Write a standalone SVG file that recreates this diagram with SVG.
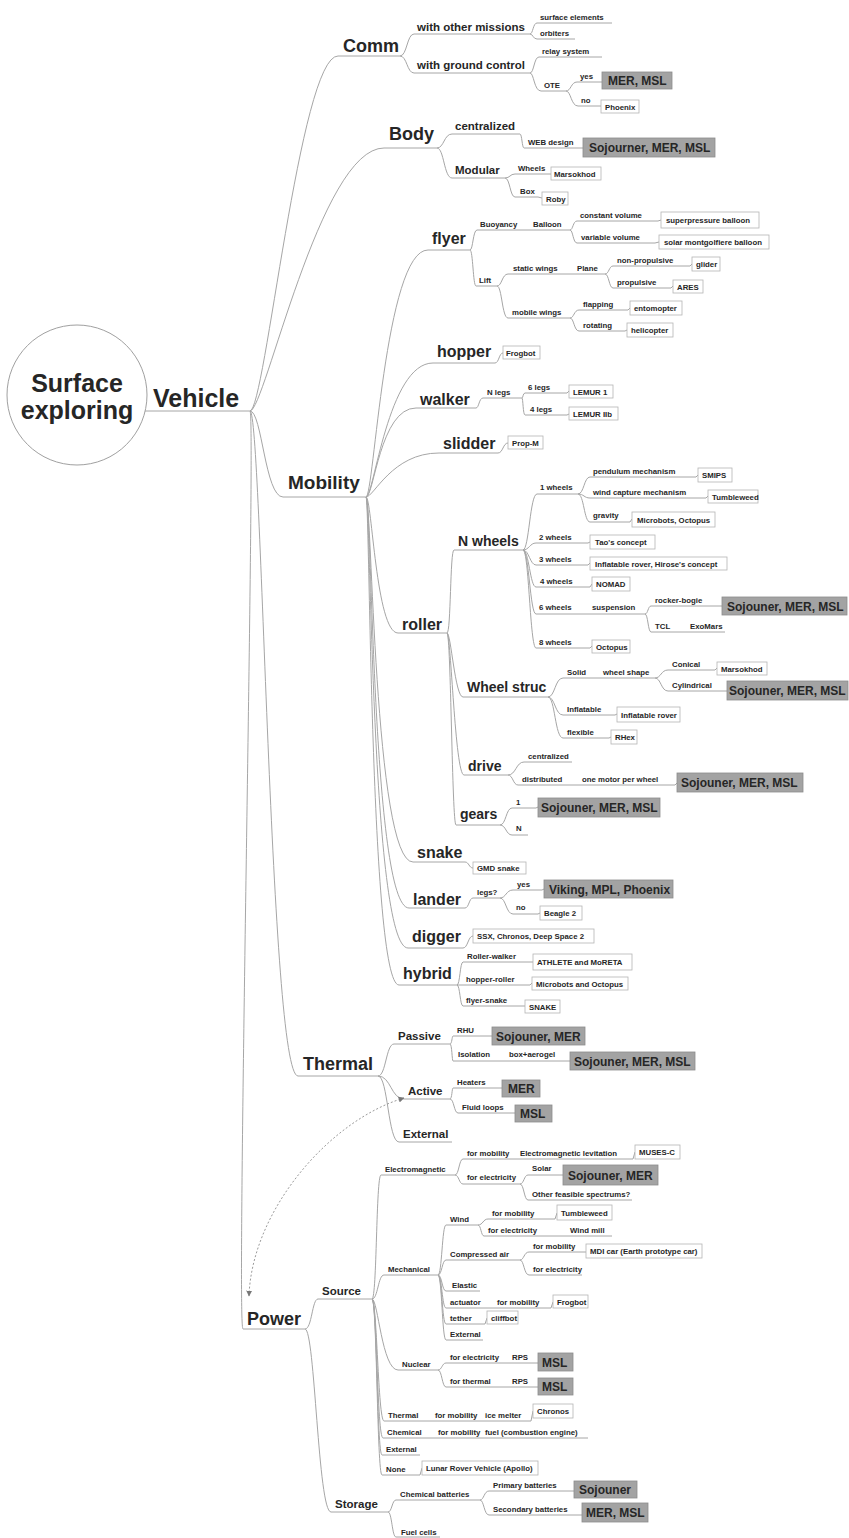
<svg xmlns="http://www.w3.org/2000/svg" width="849" height="1538" viewBox="0 0 849 1538">
<style>
text{font-family:'Liberation Sans',Arial,sans-serif;font-weight:bold;fill:#262626}
.r{font-size:25px}.l1{font-size:18px}.l2{font-size:16px}.l3{font-size:14px}.l4{font-size:11.5px}.s{font-size:7.8px}.g{font-size:12px}
.c{fill:none;stroke:#a6a6a6;stroke-width:1}
.bx{fill:#fff;stroke:#b4b4b4;stroke-width:.8}
.gb{fill:#a3a3a3;stroke:#8c8c8c;stroke-width:.8}
.rel{fill:none;stroke:#9a9a9a;stroke-width:1;stroke-dasharray:2 2}
</style>
<defs>
<marker id="ah" viewBox="0 0 10 10" refX="9" refY="5" markerWidth="6" markerHeight="6" orient="auto-start-reverse"><path d="M0 0L10 5L0 10z" fill="#777"/></marker>
</defs>
<rect width="849" height="1538" fill="#fff"/>
<g id="connectors">
<path class="c" d="M145 411H250"/>
<path class="c" d="M250 411C265 411 300 56 338 56H400"/>
<path class="c" d="M250 411C265 411 320 148 384 148H437"/>
<path class="c" d="M250 411C262 411 265 497 283 497H366"/>
<path class="c" d="M250 411C262 411 270 1076 298 1076H378"/>
<path class="c" d="M250 411C256 411 236 1329 243 1329H305"/>
<path class="c" d="M400 56C407 56 407 34 414 34H530"/>
<path class="c" d="M400 56C407 56 407 73 414 73H530"/>
<path class="c" d="M530 34C533 34 533 23 537 23H612"/>
<path class="c" d="M530 34C533 34 533 39 537 39H575"/>
<path class="c" d="M530 73C534 73 534 57 539 57H602"/>
<path class="c" d="M530 73C534 73 534 91 541 91H566"/>
<path class="c" d="M566 91C571 91 571 82 577 82H602"/>
<path class="c" d="M566 91C571 91 571 106 578 106H601"/>
<path class="c" d="M437 148C444 148 444 134 452 134H520"/>
<path class="c" d="M520 134C522 134 522 148 524 148H583"/>
<path class="c" d="M437 148C444 148 444 178 452 178H505"/>
<path class="c" d="M505 178C510 178 510 174 515 174H551"/>
<path class="c" d="M505 178C510 178 510 197 515 197H538L542 198"/>
<path class="c" d="M366 497C374 497 385 250 428 250H470"/>
<path class="c" d="M366 497C374 497 388 363 433 363H495"/>
<path class="c" d="M366 497C374 497 380 408 416 408H476"/>
<path class="c" d="M366 497C374 497 392 453 439 453H498"/>
<path class="c" d="M366 497C372 497 376 633 398 633H447"/>
<path class="c" d="M366 497C372 497 374 862 413 862H465"/>
<path class="c" d="M366 497C372 497 372 908 409 908H465"/>
<path class="c" d="M366 497C371 497 371 948 408 948H463"/>
<path class="c" d="M366 497C370 497 370 985 399 985H457"/>
<path class="c" d="M470 250C473 250 473 230 477 230H570"/>
<path class="c" d="M470 250C473 250 473 286 476 286H497"/>
<path class="c" d="M570 230C573 230 573 221 577 221H658L661 220"/>
<path class="c" d="M570 230C573 230 573 243 577 243H655L659 242"/>
<path class="c" d="M497 286C502 286 502 274 508 274H605"/>
<path class="c" d="M497 286C502 286 502 318 508 318H570"/>
<path class="c" d="M605 274C609 274 609 266 613 266H690L692 264"/>
<path class="c" d="M605 274C609 274 609 288 613 288H671L673 286"/>
<path class="c" d="M570 318C574 318 574 310 579 310H628L630 308"/>
<path class="c" d="M570 318C574 318 574 331 579 331H625L627 330"/>
<path class="c" d="M495 363C499 363 499 353 503 353"/>
<path class="c" d="M476 408C479 408 479 398 483 398H522"/>
<path class="c" d="M522 398C523 398 523 393 525 393H567L569 391"/>
<path class="c" d="M522 398C523 398 523 415 525 415H567L569 414"/>
<path class="c" d="M498 453C503 453 503 443 508 443"/>
<path class="c" d="M447 633C451 633 450 550 454 550H523"/>
<path class="c" d="M447 633C451 633 455 697 463 697H548"/>
<path class="c" d="M447 633C451 633 455 775 464 775H508"/>
<path class="c" d="M447 633C451 633 452 825 456 825H500"/>
<path class="c" d="M523 550C529 550 530 494 537 494H578"/>
<path class="c" d="M523 550C529 550 530 543 536 543H588L590 542"/>
<path class="c" d="M523 550C529 550 530 565 536 565H588L590 563"/>
<path class="c" d="M523 550C529 550 530 587 536 587H590L592 584"/>
<path class="c" d="M523 550C529 550 530 614 536 614H645"/>
<path class="c" d="M523 550C529 550 530 648 536 648H590L592 646"/>
<path class="c" d="M578 494C584 494 584 477 590 477H696L698 475"/>
<path class="c" d="M578 494C584 494 584 498 590 498H706L708 496"/>
<path class="c" d="M578 494C584 494 584 522 590 522H630L632 519"/>
<path class="c" d="M645 614C648 614 648 606 651 606H722"/>
<path class="c" d="M645 614C648 614 648 632 651 632H725"/>
<path class="c" d="M548 697C555 697 555 678 563 678H655"/>
<path class="c" d="M548 697C555 697 555 715 563 715H615L617 714"/>
<path class="c" d="M548 697C555 697 555 738 563 738H609L611 737"/>
<path class="c" d="M655 678C661 678 661 670 668 670H715L717 668"/>
<path class="c" d="M655 678C661 678 661 691 668 691H727"/>
<path class="c" d="M508 775C516 775 516 762 524 762H572"/>
<path class="c" d="M508 775C513 775 513 785 518 785H675L677 783"/>
<path class="c" d="M500 825C506 825 506 808 512 808H536L538 807"/>
<path class="c" d="M500 825C506 825 506 835 512 835H528"/>
<path class="c" d="M465 862C469 862 469 868 473 868"/>
<path class="c" d="M465 908C469 908 469 898 473 898H500"/>
<path class="c" d="M500 898C506 898 506 890 513 890H542L544 889"/>
<path class="c" d="M500 898C506 898 506 914 513 914H538L540 913"/>
<path class="c" d="M463 948C468 948 468 936 473 936"/>
<path class="c" d="M457 985C460 985 460 962 463 962H533"/>
<path class="c" d="M457 985H530L532 983"/>
<path class="c" d="M457 985C460 985 460 1006 463 1006H525"/>
<path class="c" d="M378 1076C386 1076 386 1044 394 1044H450"/>
<path class="c" d="M378 1076C391 1076 391 1099 404 1099H450"/>
<path class="c" d="M378 1076C388 1076 388 1142 399 1142H452"/>
<path class="c" d="M450 1044C452 1044 452 1036 453 1036H492"/>
<path class="c" d="M450 1044C452 1044 452 1061 453 1061H570"/>
<path class="c" d="M450 1099C452 1099 452 1088 453 1088H502"/>
<path class="c" d="M450 1099C454 1099 454 1113 458 1113H515"/>
<path class="c" d="M305 1329C312 1329 312 1299 318 1299H372"/>
<path class="c" d="M305 1329C315 1329 318 1512 331 1512H388"/>
<path class="c" d="M372 1299C377 1299 376 1175 381 1175H455"/>
<path class="c" d="M372 1299C378 1299 378 1275 384 1275H438"/>
<path class="c" d="M372 1299C378 1299 382 1370 398 1370H438"/>
<path class="c" d="M372 1299C377 1299 378 1421 384 1421H531L533 1411"/>
<path class="c" d="M372 1299C377 1299 377 1438 383 1438H588"/>
<path class="c" d="M372 1299C377 1299 377 1455 382 1455H420"/>
<path class="c" d="M372 1299C377 1299 377 1475 382 1475H420L422 1468"/>
<path class="c" d="M455 1175C459 1175 459 1159 463 1159H633L635 1152"/>
<path class="c" d="M455 1175C459 1175 459 1184 463 1184H520"/>
<path class="c" d="M520 1184C524 1184 524 1175 528 1175H563"/>
<path class="c" d="M520 1184C524 1184 524 1200 528 1200H632"/>
<path class="c" d="M438 1275C442 1275 442 1225 446 1225H478"/>
<path class="c" d="M438 1275C442 1275 442 1260 446 1260H520"/>
<path class="c" d="M438 1275C442 1275 442 1291 446 1291H480"/>
<path class="c" d="M438 1275C442 1275 442 1308 446 1308H551L553 1302"/>
<path class="c" d="M438 1275C442 1275 442 1324 446 1324H485L487 1318"/>
<path class="c" d="M438 1275C442 1275 442 1340 446 1340H483"/>
<path class="c" d="M478 1225C483 1225 483 1219 488 1219H555L557 1213"/>
<path class="c" d="M478 1225C481 1225 481 1236 484 1236H612"/>
<path class="c" d="M520 1260C524 1260 524 1252 529 1252H586"/>
<path class="c" d="M520 1260C524 1260 524 1275 529 1275H582"/>
<path class="c" d="M438 1370C442 1370 442 1363 446 1363H538"/>
<path class="c" d="M438 1370C442 1370 442 1387 446 1387H538"/>
<path class="c" d="M388 1512C392 1512 392 1500 396 1500H480"/>
<path class="c" d="M388 1512C392 1512 392 1537 396 1537H440"/>
<path class="c" d="M480 1500C484 1500 484 1491 489 1491H574"/>
<path class="c" d="M480 1500C484 1500 484 1515 489 1515H582"/>
<path class="rel" d="M404 1098C330 1120 252 1210 249 1296" marker-start="url(#ah)" marker-end="url(#ah)"/>
</g>
<g id="n-root"><circle cx="77" cy="395" r="70" fill="#fff" stroke="#a0a0a0" stroke-width="1"/><text class="r" x="77" y="392" text-anchor="middle">Surface</text><text class="r" x="77" y="419" text-anchor="middle">exploring</text></g>
<g id="n-vehicle"><text class="r" x="153" y="407">Vehicle</text></g>
<g id="n-comm"><text class="l1" x="343" y="52">Comm</text></g>
<g id="n-body"><text class="l1" x="389" y="140">Body</text></g>
<g id="n-mobility"><text class="l1" x="288" y="489" style="font-size:19px">Mobility</text></g>
<g id="n-thermal"><text class="l1" x="303" y="1070">Thermal</text></g>
<g id="n-power"><text class="l1" x="247" y="1325">Power</text></g>
<g id="n-wom"><text class="l4" x="417" y="31">with other missions</text></g>
<g id="n-wgc"><text class="l4" x="417" y="69">with ground control</text></g>
<g id="n-surf"><text class="s" x="540" y="20">surface elements</text></g>
<g id="n-orb"><text class="s" x="540" y="36">orbiters</text></g>
<g id="n-relay"><text class="s" x="542" y="54">relay system</text></g>
<g id="n-ote"><text class="s" x="544" y="88">OTE</text></g>
<g id="n-ote-yes"><text class="s" x="580" y="79">yes</text></g>
<g id="n-ote-no"><text class="s" x="581" y="103">no</text></g>
<g id="n-mermsl1"><rect class="gb" x="602" y="72" width="70" height="17"/><text class="g" x="608" y="85">MER, MSL</text></g>
<g id="n-phoenix"><rect class="bx" x="601" y="100" width="38" height="13"/><text class="s" x="605" y="110">Phoenix</text></g>
<g id="n-central"><text class="l4" x="455" y="130">centralized</text></g>
<g id="n-web"><text class="s" x="528" y="145">WEB design</text></g>
<g id="n-smm1"><rect class="gb" x="583" y="138" width="132" height="19"/><text class="g" x="589" y="152">Sojourner, MER, MSL</text></g>
<g id="n-modular"><text class="l4" x="455" y="174">Modular</text></g>
<g id="n-wheels"><text class="s" x="518" y="171">Wheels</text></g>
<g id="n-marso1"><rect class="bx" x="551" y="167" width="50" height="13"/><text class="s" x="554" y="177">Marsokhod</text></g>
<g id="n-box"><text class="s" x="520" y="194">Box</text></g>
<g id="n-roby"><rect class="bx" x="542" y="192" width="26" height="13"/><text class="s" x="546" y="202">Roby</text></g>
<g id="n-flyer"><text class="l2" x="432" y="244">flyer</text></g>
<g id="n-buoy"><text class="s" x="480" y="227">Buoyancy</text></g>
<g id="n-balloon"><text class="s" x="533" y="227">Balloon</text></g>
<g id="n-constv"><text class="s" x="580" y="218">constant volume</text></g>
<g id="n-superp"><rect class="bx" x="661" y="212" width="98" height="16"/><text class="s" x="666" y="223">superpressure balloon</text></g>
<g id="n-varv"><text class="s" x="581" y="240">variable volume</text></g>
<g id="n-solarm"><rect class="bx" x="659" y="235" width="110" height="14"/><text class="s" x="664" y="245">solar montgolfiere balloon</text></g>
<g id="n-lift"><text class="s" x="479" y="283">Lift</text></g>
<g id="n-static"><text class="s" x="513" y="271">static wings</text></g>
<g id="n-plane"><text class="s" x="577" y="271">Plane</text></g>
<g id="n-nonprop"><text class="s" x="617" y="263">non-propulsive</text></g>
<g id="n-glider"><rect class="bx" x="692" y="257" width="28" height="14"/><text class="s" x="696" y="267">glider</text></g>
<g id="n-prop"><text class="s" x="617" y="285">propulsive</text></g>
<g id="n-ares"><rect class="bx" x="673" y="280" width="30" height="13"/><text class="s" x="677" y="290">ARES</text></g>
<g id="n-mobw"><text class="s" x="512" y="315">mobile wings</text></g>
<g id="n-flap"><text class="s" x="583" y="307">flapping</text></g>
<g id="n-ento"><rect class="bx" x="630" y="301" width="52" height="14"/><text class="s" x="634" y="311">entomopter</text></g>
<g id="n-rot"><text class="s" x="583" y="328">rotating</text></g>
<g id="n-heli"><rect class="bx" x="627" y="323" width="46" height="14"/><text class="s" x="631" y="333">helicopter</text></g>
<g id="n-hopper"><text class="l2" x="437" y="357">hopper</text></g>
<g id="n-frogbot1"><rect class="bx" x="503" y="346" width="37" height="13"/><text class="s" x="506" y="356">Frogbot</text></g>
<g id="n-walker"><text class="l2" x="420" y="405">walker</text></g>
<g id="n-nlegs"><text class="s" x="487" y="395">N legs</text></g>
<g id="n-6legs"><text class="s" x="528" y="390">6 legs</text></g>
<g id="n-lemur1"><rect class="bx" x="569" y="385" width="44" height="13"/><text class="s" x="573" y="395">LEMUR 1</text></g>
<g id="n-4legs"><text class="s" x="530" y="412">4 legs</text></g>
<g id="n-lemur2"><rect class="bx" x="569" y="407" width="49" height="13"/><text class="s" x="573" y="417">LEMUR IIb</text></g>
<g id="n-slidder"><text class="l2" x="443" y="449">slidder</text></g>
<g id="n-propm"><rect class="bx" x="508" y="436" width="35" height="13"/><text class="s" x="512" y="446">Prop-M</text></g>
<g id="n-roller"><text class="l2" x="402" y="630">roller</text></g>
<g id="n-nwheels"><text class="l3" x="458" y="546">N wheels</text></g>
<g id="n-1w"><text class="s" x="540" y="490">1 wheels</text></g>
<g id="n-pend"><text class="s" x="593" y="474">pendulum mechanism</text></g>
<g id="n-smips"><rect class="bx" x="698" y="468" width="34" height="14"/><text class="s" x="702" y="478">SMIPS</text></g>
<g id="n-windc"><text class="s" x="593" y="495">wind capture mechanism</text></g>
<g id="n-tumble1"><rect class="bx" x="708" y="490" width="50" height="13"/><text class="s" x="712" y="500">Tumbleweed</text></g>
<g id="n-gravity"><text class="s" x="593" y="518">gravity</text></g>
<g id="n-microoct1"><rect class="bx" x="632" y="512" width="83" height="15"/><text class="s" x="637" y="523">Microbots, Octopus</text></g>
<g id="n-2w"><text class="s" x="539" y="540">2 wheels</text></g>
<g id="n-tao"><rect class="bx" x="590" y="535" width="65" height="14"/><text class="s" x="595" y="545">Tao's concept</text></g>
<g id="n-3w"><text class="s" x="539" y="562">3 wheels</text></g>
<g id="n-hirose"><rect class="bx" x="590" y="557" width="137" height="13"/><text class="s" x="595" y="567">Inflatable rover, Hirose's concept</text></g>
<g id="n-4w"><text class="s" x="540" y="584">4 wheels</text></g>
<g id="n-nomad"><rect class="bx" x="592" y="577" width="38" height="14"/><text class="s" x="596" y="587">NOMAD</text></g>
<g id="n-6w"><text class="s" x="539" y="610">6 wheels</text></g>
<g id="n-susp"><text class="s" x="592" y="610">suspension</text></g>
<g id="n-rocker"><text class="s" x="655" y="603">rocker-bogie</text></g>
<g id="n-smm2"><rect class="gb" x="722" y="597" width="125" height="18"/><text class="g" x="727" y="611">Sojouner, MER, MSL</text></g>
<g id="n-tcl"><text class="s" x="655" y="629">TCL</text></g>
<g id="n-exomars"><text class="s" x="690" y="629">ExoMars</text></g>
<g id="n-8w"><text class="s" x="539" y="645">8 wheels</text></g>
<g id="n-octopus"><rect class="bx" x="592" y="640" width="38" height="13"/><text class="s" x="596" y="650">Octopus</text></g>
<g id="n-wstruc"><text class="l3" x="467" y="692">Wheel struc</text></g>
<g id="n-solid"><text class="s" x="567" y="675">Solid</text></g>
<g id="n-wshape"><text class="s" x="603" y="675">wheel shape</text></g>
<g id="n-conical"><text class="s" x="672" y="667">Conical</text></g>
<g id="n-marso2"><rect class="bx" x="717" y="662" width="50" height="13"/><text class="s" x="721" y="672">Marsokhod</text></g>
<g id="n-cyl"><text class="s" x="672" y="688">Cylindrical</text></g>
<g id="n-smm3"><rect class="gb" x="727" y="681" width="121" height="19"/><text class="g" x="729" y="695">Sojouner, MER, MSL</text></g>
<g id="n-infl"><text class="s" x="567" y="712">Inflatable</text></g>
<g id="n-inflrover"><rect class="bx" x="617" y="707" width="63" height="15"/><text class="s" x="621" y="718">Inflatable rover</text></g>
<g id="n-flex"><text class="s" x="567" y="735">flexible</text></g>
<g id="n-rhex"><rect class="bx" x="611" y="730" width="26" height="14"/><text class="s" x="615" y="740">RHex</text></g>
<g id="n-drive"><text class="l3" x="468" y="771">drive</text></g>
<g id="n-dcentral"><text class="s" x="528" y="759">centralized</text></g>
<g id="n-distr"><text class="s" x="522" y="782">distributed</text></g>
<g id="n-onemotor"><text class="s" x="582" y="782">one motor per wheel</text></g>
<g id="n-smm4"><rect class="gb" x="677" y="773" width="126" height="19"/><text class="g" x="681" y="787">Sojouner, MER, MSL</text></g>
<g id="n-gears"><text class="l3" x="460" y="819">gears</text></g>
<g id="n-g1"><text class="s" x="516" y="805">1</text></g>
<g id="n-smm5"><rect class="gb" x="538" y="798" width="122" height="19"/><text class="g" x="541" y="812">Sojouner, MER, MSL</text></g>
<g id="n-gn"><text class="s" x="516" y="831">N</text></g>
<g id="n-snake"><text class="l2" x="417" y="858">snake</text></g>
<g id="n-gmd"><rect class="bx" x="473" y="862" width="53" height="12"/><text class="s" x="477" y="871">GMD snake</text></g>
<g id="n-lander"><text class="l2" x="413" y="905">lander</text></g>
<g id="n-legs"><text class="s" x="477" y="895">legs?</text></g>
<g id="n-lyes"><text class="s" x="517" y="887">yes</text></g>
<g id="n-viking"><rect class="gb" x="544" y="880" width="129" height="18"/><text class="g" x="549" y="894">Viking, MPL, Phoenix</text></g>
<g id="n-lno"><text class="s" x="516" y="910">no</text></g>
<g id="n-beagle"><rect class="bx" x="540" y="906" width="42" height="14"/><text class="s" x="544" y="916">Beagle 2</text></g>
<g id="n-digger"><text class="l2" x="412" y="942">digger</text></g>
<g id="n-ssx"><rect class="bx" x="473" y="929" width="121" height="14"/><text class="s" x="477" y="939">SSX, Chronos, Deep Space 2</text></g>
<g id="n-hybrid"><text class="l2" x="403" y="979">hybrid</text></g>
<g id="n-rwalk"><text class="s" x="467" y="959">Roller-walker</text></g>
<g id="n-athlete"><rect class="bx" x="533" y="954" width="99" height="16"/><text class="s" x="537" y="965">ATHLETE and MoRETA</text></g>
<g id="n-hroll"><text class="s" x="466" y="982">hopper-roller</text></g>
<g id="n-microoct2"><rect class="bx" x="532" y="977" width="96" height="13"/><text class="s" x="536" y="987">Microbots and Octopus</text></g>
<g id="n-fsnake"><text class="s" x="466" y="1003">flyer-snake</text></g>
<g id="n-snakebox"><rect class="bx" x="525" y="1000" width="35" height="13"/><text class="s" x="529" y="1010">SNAKE</text></g>
<g id="n-passive"><text class="l4" x="398" y="1040">Passive</text></g>
<g id="n-rhu"><text class="s" x="457" y="1033">RHU</text></g>
<g id="n-sm1"><rect class="gb" x="492" y="1027" width="93" height="18"/><text class="g" x="496" y="1041">Sojouner, MER</text></g>
<g id="n-isol"><text class="s" x="458" y="1057">Isolation</text></g>
<g id="n-aerogel"><text class="s" x="509" y="1057">box+aerogel</text></g>
<g id="n-smm6"><rect class="gb" x="570" y="1052" width="125" height="18"/><text class="g" x="574" y="1066">Sojouner, MER, MSL</text></g>
<g id="n-active"><text class="l4" x="408" y="1095">Active</text></g>
<g id="n-heaters"><text class="s" x="457" y="1085">Heaters</text></g>
<g id="n-mer1"><rect class="gb" x="502" y="1080" width="38" height="17"/><text class="g" x="508" y="1093">MER</text></g>
<g id="n-fluid"><text class="s" x="462" y="1110">Fluid loops</text></g>
<g id="n-msl1"><rect class="gb" x="515" y="1105" width="37" height="17"/><text class="g" x="520" y="1118">MSL</text></g>
<g id="n-text"><text class="l4" x="403" y="1138">External</text></g>
<g id="n-source"><text class="l4" x="322" y="1295">Source</text></g>
<g id="n-emag"><text class="s" x="385" y="1172">Electromagnetic</text></g>
<g id="n-em-mob"><text class="s" x="467" y="1156">for mobility</text></g>
<g id="n-emlev"><text class="s" x="520" y="1156">Electromagnetic levitation</text></g>
<g id="n-muses"><rect class="bx" x="635" y="1145" width="45" height="14"/><text class="s" x="639" y="1155">MUSES-C</text></g>
<g id="n-em-elec"><text class="s" x="467" y="1180">for electricity</text></g>
<g id="n-solar"><text class="s" x="532" y="1171">Solar</text></g>
<g id="n-sm2"><rect class="gb" x="563" y="1165" width="95" height="20"/><text class="g" x="568" y="1180">Sojouner, MER</text></g>
<g id="n-other"><text class="s" x="532" y="1197">Other feasible spectrums?</text></g>
<g id="n-mech"><text class="s" x="388" y="1272">Mechanical</text></g>
<g id="n-wind"><text class="s" x="450" y="1222">Wind</text></g>
<g id="n-wind-mob"><text class="s" x="492" y="1216">for mobility</text></g>
<g id="n-tumble2"><rect class="bx" x="557" y="1205" width="55" height="15"/><text class="s" x="561" y="1216">Tumbleweed</text></g>
<g id="n-wind-elec"><text class="s" x="488" y="1233">for electricity</text></g>
<g id="n-windmill"><text class="s" x="570" y="1233">Wind mill</text></g>
<g id="n-comp"><text class="s" x="450" y="1257">Compressed air</text></g>
<g id="n-comp-mob"><text class="s" x="533" y="1249">for mobility</text></g>
<g id="n-mdi"><rect class="bx" x="586" y="1244" width="116" height="14"/><text class="s" x="590" y="1254">MDI car (Earth prototype car)</text></g>
<g id="n-comp-elec"><text class="s" x="533" y="1272">for electricity</text></g>
<g id="n-elastic"><text class="s" x="452" y="1288">Elastic</text></g>
<g id="n-actuator"><text class="s" x="450" y="1305">actuator</text></g>
<g id="n-act-mob"><text class="s" x="497" y="1305">for mobility</text></g>
<g id="n-frogbot2"><rect class="bx" x="553" y="1295" width="35" height="13"/><text class="s" x="557" y="1305">Frogbot</text></g>
<g id="n-tether"><text class="s" x="450" y="1321">tether</text></g>
<g id="n-cliffbot"><rect class="bx" x="487" y="1311" width="31" height="13"/><text class="s" x="491" y="1321">cliffbot</text></g>
<g id="n-mext"><text class="s" x="450" y="1337">External</text></g>
<g id="n-nuclear"><text class="s" x="402" y="1367">Nuclear</text></g>
<g id="n-nuc-elec"><text class="s" x="450" y="1360">for electricity</text></g>
<g id="n-rps1"><text class="s" x="512" y="1360">RPS</text></g>
<g id="n-msl2"><rect class="gb" x="538" y="1353" width="35" height="18"/><text class="g" x="542" y="1367">MSL</text></g>
<g id="n-nuc-th"><text class="s" x="450" y="1384">for thermal</text></g>
<g id="n-rps2"><text class="s" x="512" y="1384">RPS</text></g>
<g id="n-msl3"><rect class="gb" x="538" y="1378" width="35" height="17"/><text class="g" x="542" y="1391">MSL</text></g>
<g id="n-sth"><text class="s" x="388" y="1418">Thermal</text></g>
<g id="n-sth-mob"><text class="s" x="435" y="1418">for mobility</text></g>
<g id="n-ice"><text class="s" x="485" y="1418">ice melter</text></g>
<g id="n-chronos"><rect class="bx" x="533" y="1404" width="40" height="14"/><text class="s" x="537" y="1414">Chronos</text></g>
<g id="n-chem"><text class="s" x="387" y="1435">Chemical</text></g>
<g id="n-chem-mob"><text class="s" x="438" y="1435">for mobility</text></g>
<g id="n-fuel"><text class="s" x="485" y="1435">fuel (combustion engine)</text></g>
<g id="n-sext"><text class="s" x="386" y="1452">External</text></g>
<g id="n-none"><text class="s" x="386" y="1472">None</text></g>
<g id="n-lrv"><rect class="bx" x="422" y="1461" width="116" height="14"/><text class="s" x="426" y="1471">Lunar Rover Vehicle (Apollo)</text></g>
<g id="n-storage"><text class="l4" x="335" y="1508">Storage</text></g>
<g id="n-chembat"><text class="s" x="400" y="1497">Chemical batteries</text></g>
<g id="n-primary"><text class="s" x="493" y="1488">Primary batteries</text></g>
<g id="n-soj"><rect class="gb" x="574" y="1481" width="63" height="17"/><text class="g" x="579" y="1494">Sojouner</text></g>
<g id="n-secondary"><text class="s" x="493" y="1512">Secondary batteries</text></g>
<g id="n-mermsl2"><rect class="gb" x="582" y="1503" width="66" height="19"/><text class="g" x="586" y="1517">MER, MSL</text></g>
<g id="n-fuelcells"><text class="s" x="401" y="1535">Fuel cells</text></g>
</svg>
